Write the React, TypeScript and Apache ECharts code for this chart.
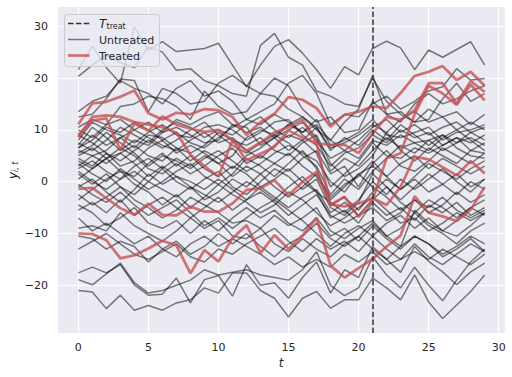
import React, { useEffect, useRef } from "react";
import * as echarts from "echarts";

const T_TREAT = 21;
const yTicks = [-20, -10, 0, 10, 20, 30];
const xTicks = [0, 5, 10, 15, 20, 25, 30];

const treated: number[][] = [
  [11.1, 15.1, 15.4, 16.4, 17.6, 13.2, 12.0, 13.3, 13.0, 14.0, 13.8, 12.5, 9.0, 11.5, 13.1, 16.3, 15.8, 14.2, 10.6, 12.9, 13.5, 14.5, 14.2, 17.1, 20.4, 21.2, 22.3, 19.6, 21.2, 18.5],
  [9.0, 11.8, 12.2, 6.1, 11.2, 9.8, 12.6, 11.0, 10.2, 9.6, 10.0, 8.0, 4.1, 5.4, 6.7, 9.9, 8.5, 7.4, 7.1, 7.1, 5.5, 9.3, 12.5, 11.9, 13.8, 19.0, 19.0, 15.1, 19.4, 17.3],
  [8.5, 12.5, 12.8, 12.5, 11.5, 11.0, 10.5, 9.5, 5.2, 3.0, 1.0, 8.0, 6.0, 7.5, 9.5, 10.5, 12.0, 7.5, -4.5, -2.9, -6.8, -3.5, 4.5, 5.5, 13.0, 18.5, 17.0, 14.8, 18.7, 15.7],
  [-1.4, -1.2, -3.2, -5.1, -6.4, -4.2, -6.4, -6.5, -4.8, -5.8, -5.8, -4.2, -1.6, -1.3, 0.3, -2.6, 0.0, 1.9, -4.4, -4.8, -4.2, -3.2, -4.5, -1.0, 4.8, 4.3, 2.8, 1.2, 4.0, 1.6],
  [-10.0, -10.1, -11.3, -14.8, -14.2, -12.9, -11.4, -12.3, -17.7, -13.2, -15.4, -10.9, -8.4, -13.8, -10.3, -13.0, -10.4, -7.0, -16.2, -18.5, -16.7, -14.9, -12.5, -10.4, -2.8, -6.0, -6.7, -7.6, -5.4, -1.0],
];

const untreated: number[][] = [
  [21.6, 26.1, 22.0, 19.0, 29.9, 25.4, 27.0, 25.1, 25.4, 25.7, 26.7, 22.5, 18.3, 22.5, 26.1, 27.4, 24.8, 21.6, 18.0, 22.2, 20.6, 25.7, 27.1, 25.8, 21.6, 25.4, 24.0, 25.5, 27.0, 22.5],
  [20.3, 22.5, 24.5, 23.0, 22.0, 26.0, 25.0, 21.5, 21.8, 19.5, 18.5, 17.0, 16.5, 26.3, 28.6, 24.0, 22.5, 17.5, 16.5, 15.0, 14.5, 20.0, 15.5, 13.0, 11.5, 14.0, 12.5, 13.5, 11.0, 13.0],
  [13.5, 15.5, 16.5, 19.5, 18.0, 17.0, 15.0, 18.0, 19.5, 16.5, 17.5, 15.5, 12.0, 13.5, 15.0, 19.0, 20.5, 17.0, 11.0, 13.0, 12.5, 15.0, 16.5, 14.0, 15.5, 17.5, 18.3, 21.8, 19.6, 19.9],
  [12.5, 13.0, 16.0, 19.8, 19.5, 13.5, 18.0, 17.0, 15.0, 15.5, 19.0, 20.5, 18.5, 17.0, 16.5, 14.0, 12.5, 10.0, 8.0, 11.5, 14.0, 20.5, 13.0, 11.5, 15.0, 17.0, 15.0, 16.0, 17.5, 18.5],
  [10.5, 12.0, 11.0, 14.5, 15.0, 16.5, 16.0, 14.5, 12.0, 17.5, 14.5, 13.0, 13.5, 17.0, 20.0, 18.5, 14.0, 11.5, 12.5, 9.5, 10.0, 15.5, 13.0, 13.5, 11.5, 12.0, 16.0, 19.0, 15.5, 17.0],
  [8.0, 11.5, 10.0, 9.0, 7.5, 9.5, 11.0, 9.0, 8.5, 10.5, 11.0, 10.0, 8.0, 9.5, 11.5, 12.0, 9.0, 7.0, 3.0, 5.5, 6.5, 9.0, 7.5, 10.0, 8.5, 9.5, 7.0, 8.5, 6.0, 7.5],
  [7.0, 10.5, 8.5, 6.0, 8.0, 7.0, 9.5, 10.5, 9.0, 7.5, 8.0, 11.0, 10.5, 7.0, 8.5, 10.0, 11.5, 8.5, 2.0, 4.5, 3.0, 6.0, 8.5, 6.5, 7.5, 8.0, 9.0, 6.5, 5.0, 4.5],
  [6.5, 9.0, 7.0, 8.5, 10.0, 8.5, 7.0, 6.0, 8.0, 9.5, 7.5, 8.5, 6.0, 4.5, 7.0, 9.0, 8.0, 5.5, -1.0, 1.5, 4.0, 7.5, 5.0, 4.5, 6.5, 5.5, 7.0, 8.5, 7.5, 9.0],
  [6.0, 5.0, 3.5, 5.5, 7.0, 5.0, 4.0, 6.5, 5.5, 7.0, 9.5, 8.0, 7.0, 8.5, 6.0, 5.0, 7.5, 9.0, 3.5, 1.0, 2.5, 5.0, 9.5, 6.0, 4.0, 6.5, 5.0, 3.5, 6.0, 5.5],
  [5.5, 7.0, 9.5, 7.5, 5.5, 3.0, 5.0, 4.0, 2.5, 4.5, 6.0, 4.0, 2.0, 3.5, 5.5, 7.0, 5.5, 4.0, 0.0, -2.0, 1.5, 3.0, 1.0, 3.5, 5.0, 2.5, 4.5, 3.0, 1.5, 3.0],
  [4.5, 3.0, 5.5, 3.0, 4.0, 6.5, 8.0, 5.5, 7.0, 5.5, 3.5, 5.0, 8.5, 10.0, 9.0, 11.0, 9.5, 12.0, 7.0, 8.0, 9.5, 12.0, 9.0, 8.5, 9.5, 10.5, 8.0, 9.5, 10.0, 11.0],
  [3.5, 1.5, 0.0, 2.5, 0.5, -1.5, 0.0, 2.0, 3.5, 1.0, -0.5, 1.5, 4.5, 3.0, 1.0, 3.5, 6.0, 2.5, -4.5, -3.0, -5.5, -2.0, 0.5, -1.5, 1.0, 3.5, 2.0, 0.5, 2.5, 4.0],
  [2.5, 4.0, 2.0, 0.5, 3.0, 4.5, 2.5, 0.0, -1.5, 0.5, 2.0, -1.0, -2.5, 0.0, 2.5, 1.0, -1.5, 0.5, -5.0, -6.5, -4.0, 1.5, -1.0, -3.5, -1.0, 1.5, -0.5, -2.5, 0.0, -1.5],
  [1.5, -0.5, 1.5, -1.0, -2.5, 0.0, -1.5, -3.0, -1.0, -2.5, -4.0, -2.0, 0.0, -1.5, -3.5, -1.0, 1.0, -2.0, -7.0, -5.5, -8.0, -4.0, -6.5, -5.0, -7.5, -4.5, -6.0, -4.0, -6.5, -5.0],
  [0.5, 2.5, 4.5, 6.5, 5.0, 2.5, 1.5, 3.5, 1.5, 3.0, 5.0, 6.5, 3.5, 5.0, 3.5, 2.0, 4.5, 6.0, 1.5, 3.0, -1.0, 3.5, 6.0, 3.0, 2.0, 4.0, 6.5, 5.0, 3.5, 5.5],
  [-1.0, 0.5, -2.0, -4.0, -1.5, 1.5, -0.5, 1.0, -1.0, -3.5, -2.0, 0.5, -1.0, 1.5, -1.0, -3.0, -1.0, 1.5, -3.0, -0.5, 1.0, 4.0, 1.0, -1.5, 0.5, -2.0, -0.5, 1.5, -1.0, 0.5],
  [-2.5, -4.5, -3.0, -1.0, -3.5, -5.0, -7.0, -5.5, -3.0, -4.5, -6.0, -8.0, -7.5, -9.0, -6.5, -8.5, -7.0, -5.0, -9.5, -11.0, -9.0, -7.5, -10.5, -9.0, -6.0, -8.5, -10.0, -12.0, -9.5, -8.0],
  [-3.5, -1.5, 0.5, 2.0, -0.5, -2.0, -4.5, -2.5, -5.0, -3.0, -0.5, -2.5, -4.0, -6.0, -4.5, -2.0, -3.5, -6.0, -8.5, -7.0, -5.0, -3.0, -5.5, -8.0, -7.0, -9.5, -8.0, -6.0, -7.5, -6.0],
  [-4.5, -6.0, -8.5, -7.0, -5.0, -8.0, -9.0, -7.5, -10.0, -7.5, -9.5, -7.0, -5.0, -7.0, -5.5, -8.0, -9.5, -7.0, -10.5, -9.0, -11.5, -8.5, -11.0, -13.0, -10.5, -12.0, -14.0, -12.5, -10.5, -12.0],
  [-5.5, -4.0, -6.0, -3.5, -6.5, -4.5, -3.0, -5.0, -7.0, -5.0, -3.0, -5.5, -3.5, -1.0, -3.0, -5.0, -3.0, -1.5, -6.0, -4.0, -6.5, -3.5, -1.0, -4.0, -6.0, -3.5, -5.0, -7.0, -5.0, -3.5],
  [-7.0, -9.5, -8.0, -10.0, -12.0, -10.5, -13.0, -11.5, -14.0, -12.5, -10.0, -12.0, -10.0, -12.5, -14.5, -12.0, -10.5, -8.0, -11.0, -12.5, -10.5, -13.0, -15.0, -12.5, -10.5, -12.0, -14.5, -13.0, -11.0, -13.5],
  [-9.0, -8.5, -9.5, -6.0, -8.5, -10.0, -11.5, -9.5, -7.0, -9.0, -7.5, -10.5, -11.0, -9.0, -12.0, -13.5, -11.0, -13.0, -14.5, -12.0, -10.5, -8.0, -10.5, -12.5, -5.5, -8.0, -9.5, -10.5, -8.5, -6.0],
  [-10.5, -11.0, -13.0, -11.5, -12.5, -15.5, -13.0, -14.5, -12.0, -10.5, -12.5, -11.0, -12.5, -14.0, -16.0, -14.5, -16.5, -15.0, -16.5, -14.0, -15.5, -13.5, -16.0, -15.0, -13.5, -15.0, -13.0, -14.5, -16.0, -14.0],
  [-13.0, -11.5, -10.0, -12.0, -14.0, -15.0, -13.5, -12.0, -14.5, -15.5, -13.0, -14.0, -12.0, -10.5, -9.0, -11.5, -13.5, -11.0, -13.0, -11.5, -13.5, -10.5, -13.0, -15.0, -12.0, -14.5, -16.0, -14.0, -12.0, -13.5],
  [-17.6, -16.5, -17.6, -16.0, -19.9, -21.9, -21.7, -18.6, -23.4, -18.9, -18.1, -22.1, -16.0, -20.0, -19.5, -22.5, -18.5, -15.5, -21.5, -17.0, -18.5, -12.5, -15.0, -17.5, -12.5, -15.4, -17.4, -19.9, -17.4, -15.7],
  [-18.9, -19.9, -17.8, -15.7, -19.5, -21.5, -21.0, -20.0, -19.0, -17.0, -18.0, -17.5, -17.0, -18.0, -18.5, -19.0, -17.0, -13.5, -20.0, -22.0, -20.5, -14.5, -18.0, -20.5, -16.5, -20.0, -23.0, -19.0, -15.5, -13.0],
  [-21.0, -21.3, -24.5, -21.9, -24.8, -23.9, -24.8, -23.4, -22.8, -20.5, -21.5, -17.6, -17.6, -21.0, -22.5, -26.1, -22.5, -21.2, -24.4, -22.8, -22.8, -18.6, -20.5, -22.8, -18.0, -23.2, -26.4, -23.8, -21.2, -18.0],
  [7.5, 6.0, 8.0, 10.5, 9.0, 7.5, 10.0, 11.5, 10.5, 8.5, 10.0, 9.0, 11.0, 12.5, 10.0, 8.5, 10.5, 8.0, 4.5, 6.0, 8.0, 10.5, 12.0, 9.5, 11.0, 9.0, 10.5, 11.5, 9.5, 10.5],
  [9.0, 7.5, 5.5, 4.0, 6.0, 8.0, 6.5, 8.0, 10.0, 11.5, 9.0, 7.0, 5.5, 7.5, 9.0, 7.5, 5.0, 3.0, -2.5, 0.5, -1.5, 2.0, 4.5, 7.0, 5.5, 8.0, 6.0, 7.5, 9.5, 8.0],
  [5.0, 6.5, 4.5, 2.0, 1.0, 3.5, 5.5, 3.0, 5.0, 2.5, 1.0, 3.0, 1.5, -1.0, 0.5, 2.5, 0.0, -2.0, -4.0, -6.0, -3.5, 0.0, -2.5, 0.5, -1.5, 0.5, 2.5, 0.0, -2.0, 0.5],
  [3.0, 5.0, 6.0, 8.5, 6.5, 9.0, 8.5, 6.5, 4.0, 6.0, 4.5, 2.5, 5.0, 6.5, 8.5, 6.0, 8.0, 10.5, 6.0, 8.5, 7.0, 10.0, 8.0, 11.0, 9.0, 7.0, 9.0, 7.5, 8.5, 7.0],
  [10.0, 8.5, 11.0, 12.0, 10.0, 11.5, 9.5, 12.0, 11.0, 12.5, 13.5, 11.0, 9.5, 10.5, 8.5, 11.0, 12.5, 10.5, 6.5, 7.5, 9.0, 11.0, 9.5, 12.0, 13.5, 11.5, 12.5, 10.0, 11.5, 10.0],
  [2.0, 0.0, -1.5, 0.5, 2.0, 0.0, 2.5, 4.5, 3.0, 5.0, 3.5, 1.0, 3.0, 1.5, 3.5, 5.5, 3.0, 1.0, -3.5, -1.0, 1.5, -1.0, -3.0, -5.5, -3.5, -6.0, -4.5, -2.0, -4.0, -2.5],
  [4.0, 2.5, 4.5, 5.5, 3.5, 1.0, 3.0, 1.0, 0.0, -1.5, 0.5, -1.5, -3.5, -2.0, -4.0, -6.5, -4.5, -2.5, -6.5, -8.0, -6.5, -5.0, -7.5, -6.0, -3.5, -5.0, -3.0, -5.5, -7.0, -5.5],
  [-0.5, -2.5, -4.0, -2.0, -4.5, -6.5, -5.0, -3.5, -6.0, -8.5, -7.0, -9.0, -7.0, -5.0, -3.5, -5.5, -7.5, -10.0, -12.5, -10.0, -8.5, -10.5, -8.0, -6.5, -9.0, -7.0, -9.5, -7.5, -5.0, -6.5],
  [6.5, 8.0, 10.5, 9.5, 11.5, 10.0, 8.0, 9.5, 7.5, 6.5, 8.5, 10.5, 12.0, 11.0, 13.0, 11.5, 9.5, 11.0, 8.0, 6.0, 4.5, 8.0, 7.0, 9.0, 7.5, 6.0, 8.5, 10.0, 8.0, 6.0],
];

const FONT = "DejaVu Sans";
const INK = "#262626";
const RED = "#c44e52";

const toPts = (vals: number[]) => vals.map((v, i) => [i, v]);
const fmt = (v: number) => String(v).replace("-", "\u2212");

export default function App() {
  const ref = useRef<HTMLDivElement>(null);
  useEffect(() => {
    if (!ref.current) return;
    const chart = echarts.init(ref.current, undefined, { renderer: "svg" });
    const series: any[] = [];
    untreated.forEach((vals, k) => {
      series.push({
        type: "line",
        name: "Untreated" + k,
        data: toPts(vals),
        showSymbol: false,
        symbol: "none",
        silent: true,
        z: 2,
        lineStyle: { color: "#000", opacity: 0.5, width: 1.5 },
      });
    });
    treated.forEach((vals, k) => {
      series.push({
        type: "line",
        name: "Treated" + k,
        data: toPts(vals),
        showSymbol: false,
        symbol: "none",
        silent: true,
        z: 3,
        lineStyle: { color: RED, opacity: 0.78, width: 2.7 },
      });
    });
    series.push({
      type: "line",
      data: [],
      silent: true,
      z: 4,
      markLine: {
        silent: true,
        symbol: "none",
        label: { show: false },
        lineStyle: { color: "#333", type: [5.5, 2.4], width: 1.5, opacity: 1 },
        data: [{ xAxis: T_TREAT }],
      },
    });
    const legendLines = [
      { y: 23.5, stroke: "#333", width: 1.5, dash: [5.5, 2.4], opacity: 1 },
      { y: 39.5, stroke: "#000", width: 1.5, dash: null, opacity: 0.5 },
      { y: 55.5, stroke: RED, width: 2.7, dash: null, opacity: 0.78 },
    ];
    chart.setOption({
      animation: false,
      backgroundColor: "#ffffff",
      grid: { left: 58, top: 7, width: 447, height: 326, show: true, backgroundColor: "#EAEAF2", borderWidth: 0 },
      xAxis: {
        type: "value",
        min: -1.45,
        max: 30.45,
        axisLine: { show: false },
        axisTick: { show: false, customValues: xTicks },
        axisLabel: { customValues: xTicks, color: INK, fontFamily: FONT, fontSize: 11, margin: 9, formatter: fmt },
        splitLine: { show: true, lineStyle: { color: "#ffffff", width: 1.1 } },
      },
      yAxis: {
        type: "value",
        min: -29.2,
        max: 33.7,
        axisLine: { show: false },
        axisTick: { show: false, customValues: yTicks },
        axisLabel: { customValues: yTicks, color: INK, fontFamily: FONT, fontSize: 11, margin: 10, formatter: fmt },
        splitLine: { show: true, lineStyle: { color: "#ffffff", width: 1.1 } },
      },
      series,
      graphic: [
        {
          type: "rect",
          z: 100,
          shape: { x: 64.5, y: 14.5, width: 95, height: 52, r: 3 },
          style: { fill: "rgba(234,234,242,0.8)", stroke: "#cccccc", lineWidth: 1 },
        },
        ...legendLines.map((l) => ({
          type: "line",
          z: 101,
          shape: { x1: 68, y1: l.y, x2: 89.5, y2: l.y },
          style: { stroke: l.stroke, lineWidth: l.width, lineDash: l.dash || undefined, opacity: l.opacity },
        })),
        {
          type: "text", z: 101, x: 99, y: 23.5,
          style: { text: "T", fontFamily: FONT, fontStyle: "italic", fontSize: 12, fill: INK, verticalAlign: "middle" },
        },
        {
          type: "text", z: 101, x: 106.5, y: 26.5,
          style: { text: "treat", fontFamily: FONT, fontSize: 8, fill: INK, verticalAlign: "middle" },
        },
        {
          type: "text", z: 101, x: 99, y: 40,
          style: { text: "Untreated", fontFamily: FONT, fontSize: 11, fill: INK, verticalAlign: "middle" },
        },
        {
          type: "text", z: 101, x: 99, y: 56,
          style: { text: "Treated", fontFamily: FONT, fontSize: 11, fill: INK, verticalAlign: "middle" },
        },
        {
          type: "text", z: 101, x: 281, y: 363,
          style: { text: "t", fontFamily: FONT, fontStyle: "italic", fontSize: 12, fill: INK, align: "center", verticalAlign: "middle" },
        },
        {
          type: "group",
          x: 12.5,
          y: 170,
          rotation: Math.PI / 2,
          children: [
            {
              type: "text", x: -9, y: 0,
              style: { text: "y", fontFamily: FONT, fontStyle: "italic", fontSize: 12, fill: INK, verticalAlign: "middle" },
            },
            {
              type: "text", x: -2, y: 3,
              style: { text: "i, t", fontFamily: FONT, fontStyle: "italic", fontSize: 8, fill: INK, verticalAlign: "middle" },
            },
          ],
        },
      ],
    });
    return () => chart.dispose();
  }, []);
  return <div ref={ref} style={{ width: 512, height: 377, position: "absolute", left: 0, top: 0 }} />;
}
